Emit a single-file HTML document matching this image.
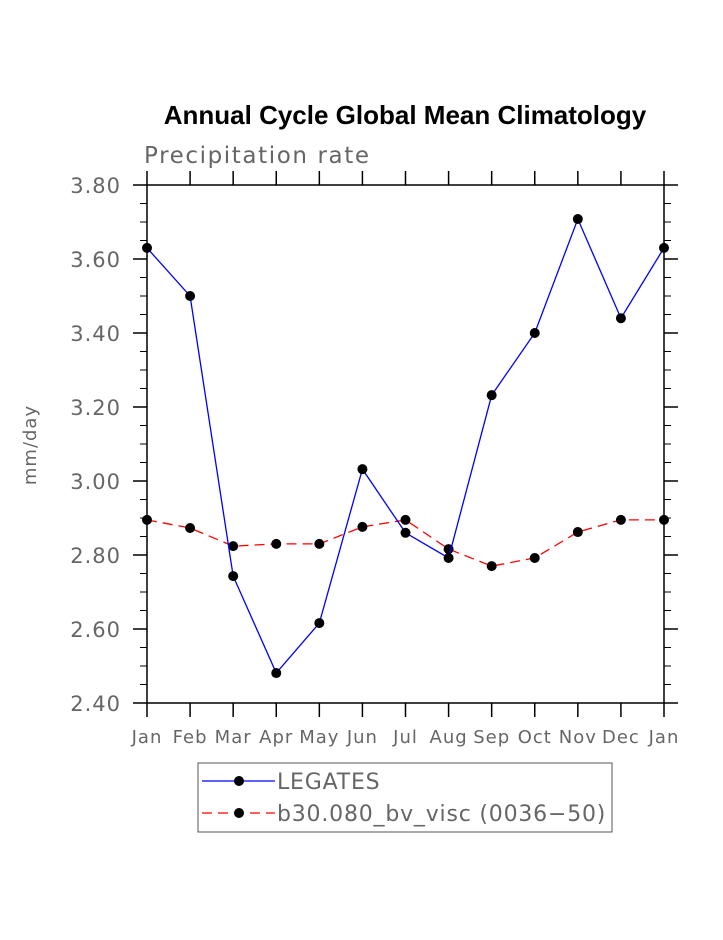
<!DOCTYPE html>
<html><head><meta charset="utf-8"><style>
body{margin:0;background:#fff}
svg text{font-family:"DejaVu Sans","Liberation Sans",sans-serif}
</style></head><body>
<svg id="chart" width="723" height="935" viewBox="0 0 723 935" xmlns="http://www.w3.org/2000/svg">
<text x="405" y="124" text-anchor="middle" font-size="26" font-weight="bold" style="font-family:'Liberation Sans',sans-serif">Annual Cycle Global Mean Climatology</text>
<text x="144" y="163" font-size="23" fill="#666" letter-spacing="1.6">Precipitation rate</text>
<text transform="translate(36,445) rotate(-90)" text-anchor="middle" font-size="18" fill="#666" letter-spacing="1">mm/day</text>
<g id="axes"></g>
<g id="series"></g>
<g>
<rect x="198" y="763" width="414" height="69" fill="none" stroke="#555" stroke-width="1"/>
<line x1="202" y1="781" x2="275" y2="781" stroke="#0000ff" stroke-width="1.3"/>
<circle cx="239" cy="781" r="5" fill="#000"/>
<text x="277" y="789" font-size="22" fill="#666" letter-spacing="0.8">LEGATES</text>
<line x1="202" y1="813" x2="275" y2="813" stroke="#ff0000" stroke-width="1.3" stroke-dasharray="10,6"/>
<circle cx="239" cy="813" r="5" fill="#000"/>
<text x="277" y="821" font-size="22" fill="#666" letter-spacing="0.8">b30.080_bv_visc (0036−50)</text>
</g>
</svg>
<script>
const months=["Jan","Feb","Mar","Apr","May","Jun","Jul","Aug","Sep","Oct","Nov","Dec","Jan"];
const legates=[3.63,3.50,2.743,2.481,2.616,3.032,2.86,2.792,3.232,3.40,3.708,3.44,3.63];
const model=[2.895,2.873,2.824,2.83,2.83,2.876,2.895,2.816,2.77,2.792,2.862,2.895,2.895];
const yTicks=[2.40,2.60,2.80,3.00,3.20,3.40,3.60,3.80];
const NS="http://www.w3.org/2000/svg";
const X0=147,X1=664,Y0=703,Y1=185,YMIN=2.4,YMAX=3.8;
const xs=i=>X0+(X1-X0)*i/(months.length-1);
const ys=v=>Y0-(v-YMIN)/(YMAX-YMIN)*(Y0-Y1);
function mk(tag,attrs,parent){const e=document.createElementNS(NS,tag);for(const k in attrs)e.setAttribute(k,attrs[k]);parent.appendChild(e);return e;}
const ax=document.getElementById('axes');
let f=mk('rect',{x:X0,y:Y1,width:X1-X0,height:Y0-Y1,fill:'none',stroke:'#000','stroke-width':1.5},ax);


months.forEach((m,i)=>{
  const x=xs(i);
  mk('line',{x1:x,y1:Y0,x2:x,y2:Y0+14,stroke:'#000','stroke-width':1.5},ax);
  mk('line',{x1:x,y1:Y1,x2:x,y2:Y1-14,stroke:'#000','stroke-width':1.5},ax);
  const t=mk('text',{x:x,y:743,'text-anchor':'middle','font-size':18,fill:'#666','letter-spacing':1},ax);
  t.textContent=m;
  
  
});
yTicks.forEach((v,i)=>{
  const y=ys(v);
  mk('line',{x1:X0-14,y1:y,x2:X0,y2:y,stroke:'#000','stroke-width':1.5},ax);
  mk('line',{x1:X1,y1:y,x2:X1+14,y2:y,stroke:'#000','stroke-width':1.5},ax);
  const t=mk('text',{x:121,y:y+8,'text-anchor':'end','font-size':21,fill:'#666','letter-spacing':1},ax);
  t.textContent=v.toFixed(2);
  
  
  if(i<yTicks.length-1){for(let k=1;k<4;k++){const ym=ys(v+0.05*k);
    mk('line',{x1:X0-7,y1:ym,x2:X0,y2:ym,stroke:'#000','stroke-width':1},ax);
    mk('line',{x1:X1,y1:ym,x2:X1+7,y2:ym,stroke:'#000','stroke-width':1},ax);}}
});
const sg=document.getElementById('series');
function series(vals,color,dash,name){
  const p=mk('polyline',{points:vals.map((v,i)=>xs(i)+','+ys(v)).join(' '),fill:'none',stroke:color,'stroke-width':1.3,'stroke-dasharray':dash},sg);
  
  
  vals.forEach((v,i)=>{const c=mk('circle',{cx:xs(i),cy:ys(v),r:5,fill:'#000'},sg);
    
    });
}
series(model,'#ff0000','10,6','model');
series(legates,'#0000ff','none','legates');
</script>
</body></html>
